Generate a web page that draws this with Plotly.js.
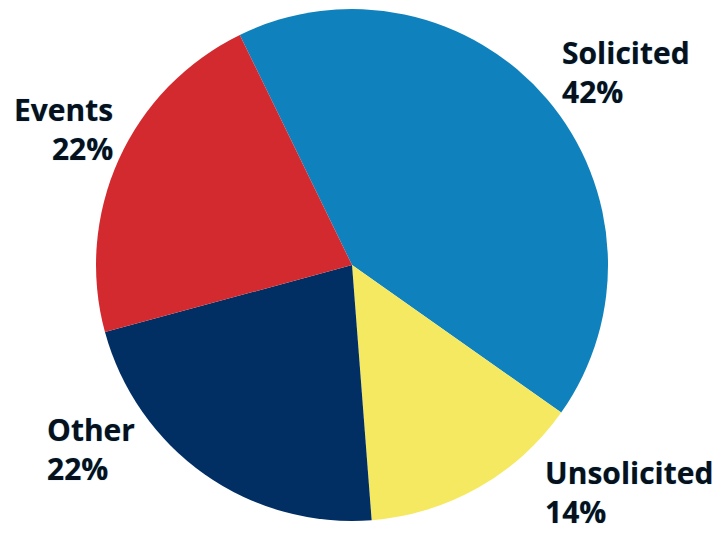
<!DOCTYPE html>
<html>
<head>
<meta charset="utf-8">
<script src="https://cdn.plot.ly/plotly-3.0.1.min.js"></script>
<style>html,body{margin:0;padding:0;background:#fff;}#chart{width:727px;height:540px;}</style>
</head>
<body>
<div id="chart"></div>
<script>
const labels = ["Solicited", "Unsolicited", "Other", "Events"];
const values = [42, 14, 22, 22];
const colors = ["#0f81bd", "#f6e962", "#012f64", "#d22a2f"];

// label placement (layout only)
const labelPos = [
  {x: 0.770, y: 0.959, xanchor: "left", align: "left"},
  {x: 0.747, y: 0.139, xanchor: "left", align: "left"},
  {x: 0.062, y: 0.223, xanchor: "left", align: "left"},
  {x: 0.158, y: 0.848, xanchor: "right", align: "right"}
];

const font = {family: "'Open Sans', sans-serif", size: 30, color: "#07111c", weight: 700,
  shadow: "0px 0px 1px rgba(20,120,180,0.55)"};

const annotations = labels.map((l, i) => Object.assign({
  xref: "paper", yref: "paper", yanchor: "top",
  text: l + "<br>" + values[i] + "%",
  showarrow: false, font: font
}, labelPos[i]));

const data = [{
  type: "pie",
  labels: labels,
  values: values,
  sort: false,
  direction: "clockwise",
  rotation: -26,
  marker: {colors: colors, line: {width: 0}},
  textinfo: "none",
  hoverinfo: "label+percent",
  domain: {x: [0, 0.9684], y: [0, 1]}
}];

const layout = {
  width: 727, height: 540,
  margin: {l: 0, r: 0, t: 9, b: 19},
  showlegend: false,
  paper_bgcolor: "#ffffff",
  annotations: annotations
};

Plotly.newPlot("chart", data, layout, {displayModeBar: false, staticPlot: true});
</script>
</body>
</html>
